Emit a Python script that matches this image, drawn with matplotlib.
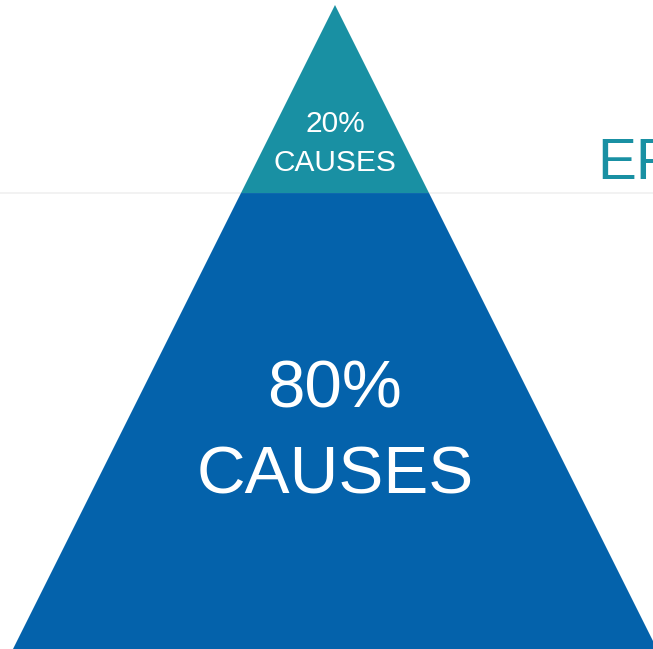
import matplotlib.pyplot as plt
from matplotlib.patches import Polygon

# pyramid segments, top to bottom
shares = ['20%', '80%']
names = ['CAUSES', 'CAUSES']
# cumulative depth of each segment boundary (fraction of the pyramid height)
bounds = [0.0, 0.292, 1.0]
colors = ['#1990a3', '#0462ab']
side_text = 'EFFECTS'

W, H = 653, 649
fig = plt.figure(figsize=(W / 100, H / 100), dpi=100)
ax = fig.add_axes([0, 0, 1, 1])
ax.set_xlim(0, W)
ax.set_ylim(H, 0)
ax.axis('off')

apex_x, apex_y = 335, 5
height = 644
half_base = 322

# faint divider line behind the pyramid
y_div = apex_y + bounds[1] * height
ax.axhline(y_div, color='#f0f0f0', lw=1.2, zorder=0)

for i in range(len(shares)):
    t, b = bounds[i], bounds[i + 1]
    yt, yb = apex_y + t * height, apex_y + b * height
    wt, wb = t * half_base, b * half_base
    poly = Polygon([(apex_x - wt, yt), (apex_x + wt, yt),
                    (apex_x + wb, yb), (apex_x - wb, yb)],
                   closed=True, facecolor=colors[i], edgecolor='none', zorder=2)
    ax.add_patch(poly)

fs = [21.5, 48.5]
offs = [(124, 163), (391, 476)]
for i in range(len(shares)):
    ax.text(apex_x, offs[i][0], shares[i], color='white', fontsize=fs[i],
            family='Liberation Sans', ha='center', va='center', zorder=3)
    ax.text(apex_x, offs[i][1], names[i], color='white', fontsize=fs[i],
            family='Liberation Sans', ha='center', va='center', zorder=3)

# heading on the right runs off the edge, as in the source slide
ax.text(597, 164, side_text, color='#1990a3', fontsize=42,
        family='Liberation Sans', ha='left', va='center', zorder=3)

fig.savefig('out.png', dpi=100, facecolor='white')
